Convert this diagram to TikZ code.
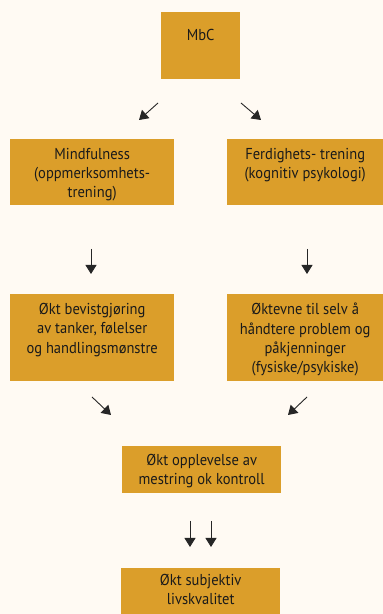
\documentclass[tikz,border=0pt]{standalone}
\usepackage{fontspec}
\setmainfont[FakeStretch=0.92]{PT Sans}
\usetikzlibrary{arrows.meta}
\definecolor{bg}{HTML}{FFFAF3}
\definecolor{boxc}{HTML}{DB9E2A}
\definecolor{txt}{HTML}{1A1A1A}
\begin{document}
\begin{tikzpicture}[x=1pt,y=1pt,
  box/.style={fill=boxc,draw=none,inner sep=0pt,anchor=north west},
  lbl/.style={anchor=north,inner sep=0pt,align=center,text=txt,font=\fontsize{15.8}{19.3}\selectfont},
  arr/.style={draw=black!85,line width=0.9pt,-{Triangle[length=9pt,width=11pt]}}]
\fill[bg] (0,0) rectangle (383,614);
\useasboundingbox (0,0) rectangle (383,614);
% boxes (y = 614 - px)
\node[box,minimum width=79pt,minimum height=67pt] (mbc) at (161,602) {};
\node[box,minimum width=164pt,minimum height=66pt] (mind) at (10,475) {};
\node[box,minimum width=156pt,minimum height=66pt] (ferd) at (227,475) {};
\node[box,minimum width=164pt,minimum height=87pt] (bev) at (10,320) {};
\node[box,minimum width=156pt,minimum height=87pt] (evne) at (227,320) {};
\node[box,minimum width=159pt,minimum height=47pt] (opp) at (122,168) {};
\node[box,minimum width=159pt,minimum height=46pt] (liv) at (121,46) {};
% texts
\node[lbl] (tmbc) at ([yshift=-17pt]mbc.north) {MbC};
\node[lbl] (tmind) at ([yshift=-9pt]mind.north) {Mindfulness\\(oppmerksomhets-\\trening)};
\node[lbl] (tferd) at ([yshift=-9pt]ferd.north) {Ferdighets- trening\\(kognitiv psykologi)};
\node[lbl] (tbev) at ([yshift=-9pt]bev.north) {Økt bevistgjøring\\av tanker, følelser\\og handlingsmønstre};
\node[lbl] (tevne) at ([yshift=-9pt]evne.north) {Øktevne til selv å\\håndtere problem og\\påkjenninger\\(fysiske/psykiske)};
\node[lbl] (topp) at ([yshift=-8pt]opp.north) {Økt opplevelse av\\mestring ok kontroll};
\node[lbl] (tliv) at ([yshift=-6pt]liv.north) {Økt subjektiv\\livskvalitet};
% arrow end points
\coordinate (a1s) at (158,511); \coordinate (a1e) at (139,494);
\coordinate (a2s) at (241,511); \coordinate (a2e) at (261,494);
\coordinate (a3s) at (91,365); \coordinate (a3e) at (91,340);
\coordinate (a4s) at (307,365); \coordinate (a4e) at (307,340);
\coordinate (a5s) at (92,217); \coordinate (a5e) at (111,199);
\coordinate (a6s) at (307,217); \coordinate (a6e) at (288,199);
\coordinate (a7s) at (190,93); \coordinate (a7e) at (190,67);
\coordinate (a8s) at (211,93); \coordinate (a8e) at (211,67);
\foreach \i in {1,...,8} \draw[arr] (a\i s) -- (a\i e);
\end{tikzpicture}
\end{document}
